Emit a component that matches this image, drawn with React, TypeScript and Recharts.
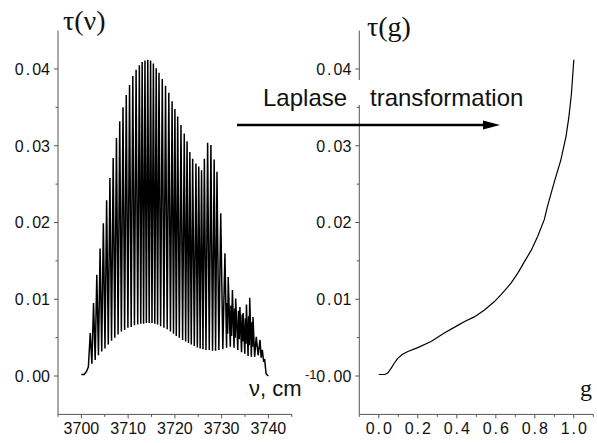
import { LineChart, Line, XAxis, YAxis } from "recharts";

// left panel: absorption spectrum tau(nu)
const lineNu = [
  3701.9, 3702.6, 3703.3, 3704.0, 3704.7, 3705.4, 3706.1, 3706.8, 3707.5, 3708.2,
  3708.9, 3709.6, 3710.3, 3711.0, 3711.7, 3712.4, 3713.0, 3713.6, 3714.2, 3714.8,
  3715.4, 3716.0, 3716.6, 3717.3, 3718.0, 3718.7, 3719.4, 3720.0, 3720.6, 3721.3,
  3722.0, 3722.6, 3723.2, 3723.8, 3724.5, 3725.1, 3725.7, 3726.3, 3727.0, 3727.7,
  3728.4, 3729.0, 3729.8, 3730.7, 3731.4, 3732.3, 3733.0, 3733.9, 3734.6, 3735.3,
  3736.0, 3736.7, 3737.4, 3738.2, 3738.7, 3739.2,
];
const lineTau = [
  0.0056, 0.0095, 0.0132, 0.0166, 0.0199, 0.0229, 0.0258, 0.0284, 0.031, 0.0332,
  0.035, 0.0366, 0.0379, 0.0391, 0.0399, 0.0405, 0.0409, 0.0411, 0.0412, 0.0411,
  0.0407, 0.0401, 0.0395, 0.0387, 0.0378, 0.0369, 0.0358, 0.0348, 0.0338, 0.0327,
  0.0316, 0.0306, 0.0292, 0.0283, 0.0277, 0.0273, 0.0268, 0.0283, 0.0304, 0.0301,
  0.0282, 0.0266, 0.0212, 0.016, 0.0129, 0.0112, 0.0101, 0.009, 0.0082, 0.0093,
  0.0102, 0.0077, 0.0051, 0.0047, 0.0034, 0.0021,
];
const valleyNu = [
  3702.25, 3702.95, 3703.65, 3704.35, 3705.05, 3705.75, 3706.45, 3707.15, 3707.85, 3708.55,
  3709.25, 3709.95, 3710.65, 3711.35, 3712.05, 3712.7, 3713.3, 3713.9, 3714.5, 3715.1,
  3715.7, 3716.3, 3716.95, 3717.65, 3718.35, 3719.05, 3719.7, 3720.3, 3720.95, 3721.65,
  3722.3, 3722.9, 3723.5, 3724.15, 3724.8, 3725.4, 3726.0, 3726.65, 3727.35, 3728.05,
  3728.7, 3729.4, 3730.25, 3731.05, 3731.85, 3732.65, 3733.45, 3734.25, 3734.95, 3735.65,
  3736.35, 3737.05, 3737.8, 3738.45, 3738.95, 3739.5,
];
const valleyTau = [
  0.0016, 0.0021, 0.0027, 0.0032, 0.0036, 0.0041, 0.0046, 0.005, 0.0054, 0.0058,
  0.006, 0.0063, 0.0064, 0.0066, 0.0067, 0.0068, 0.0068, 0.0069, 0.0069, 0.0069,
  0.0068, 0.0067, 0.0065, 0.0063, 0.0061, 0.0058, 0.0055, 0.0052, 0.005, 0.0047,
  0.0045, 0.0043, 0.0041, 0.0039, 0.0037, 0.0036, 0.0035, 0.0034, 0.0034, 0.0033,
  0.0033, 0.0034, 0.0035, 0.0037, 0.0038, 0.0037, 0.0034, 0.0031, 0.0029, 0.0026,
  0.0025, 0.0025, 0.0027, 0.0024, 0.002, 0.0003,
];
// weaker lines packed into the 3731-3737 band
const blobNu = [
  3731.15, 3731.28, 3731.98, 3732.12, 3732.78, 3732.9, 3733.6, 3733.75,
  3734.38, 3734.5, 3735.08, 3735.2, 3735.78, 3735.9, 3736.48, 3736.6,
];
const blobTau = [
  0.0095, 0.0055, 0.0092, 0.0052, 0.0088, 0.005, 0.0085, 0.0048,
  0.008, 0.0045, 0.0075, 0.0042, 0.0078, 0.004, 0.007, 0.0038,
];
const headNu = [3700.0, 3700.6, 3701.1, 3701.5];
const headTau = [0.0002, 0.0002, 0.0006, 0.0012];
const tailNu = [3739.8, 3740.0];
const tailTau = [0.0001, 0.0];

// right panel: tau(g)
const gValues = [
  0, 0.03, 0.046, 0.063, 0.08, 0.097, 0.12, 0.149, 0.2, 0.268, 0.336, 0.405, 0.44,
  0.49, 0.542, 0.593, 0.627, 0.678, 0.713, 0.747, 0.782, 0.815, 0.849, 0.865, 0.9,
  0.933, 0.96, 0.975, 0.988, 1.0,
];
const gTau = [
  0.0002, 0.0002, 0.0004, 0.001, 0.0017, 0.0023, 0.0028, 0.0032, 0.0037, 0.0045,
  0.0056, 0.0066, 0.0071, 0.0077, 0.0086, 0.0097, 0.0106, 0.0121, 0.0134, 0.0149,
  0.0164, 0.0182, 0.0204, 0.0221, 0.0253, 0.0281, 0.0312, 0.0338, 0.0368, 0.0412,
];

const tauMajor = [0, 0.01, 0.02, 0.03, 0.04];
const tauMinor = [0.005, 0.015, 0.025, 0.035];
const nuMajor = [3700, 3710, 3720, 3730, 3740];
const nuMinor = [3695, 3705, 3715, 3725, 3735, 3745];
const gMajor = [0, 0.2, 0.4, 0.6, 0.8, 1.0];
const gMinor = [-0.1, 0.1, 0.3, 0.5, 0.7, 0.9, 1.1];

const spectrumData = [
  ...headNu.map((nu, i) => ({ nu, tau: headTau[i] })),
  ...lineNu.flatMap((nu, i) => [
    { nu, tau: lineTau[i] },
    { nu: valleyNu[i], tau: valleyTau[i] },
  ]),
  ...blobNu.map((nu, i) => ({ nu, tau: blobTau[i] })),
  ...tailNu.map((nu, i) => ({ nu, tau: tailTau[i] })),
].sort((a, b) => a.nu - b.nu);
const gData = gValues.map((g, i) => ({ g, tau: gTau[i] }));

const AXIS = "#555";
const SANS = "'Liberation Sans', Arial, sans-serif";
const SERIF = "'Liberation Serif', 'Times New Roman', serif";

const isIn = (list: number[], v: number) => list.some((m) => Math.abs(m - v) < 1e-9);

// the original font sets the decimal point about as wide as a digit
function NumText(label: string) {
  const [a, b] = label.split(".");
  if (b === undefined) return a;
  return (
    <>
      {a}
      <tspan dx={2}>.</tspan>
      <tspan dx={2}>{b}</tspan>
    </>
  );
}

function makeXTick(major: number[], fmt: (v: number) => string) {
  return (props: any) => {
    const { x, y, payload } = props;
    const big = isIn(major, payload.value);
    return (
      <g>
        <line x1={x} y1={y} x2={x} y2={y + (big ? 4 : 2.5)} stroke={AXIS} />
        {big && (
          <text x={x} y={y + 20} textAnchor="middle" fontSize={16} fontFamily={SANS} fill="#111">
            {NumText(fmt(payload.value))}
          </text>
        )}
      </g>
    );
  };
}

function YTick(props: any) {
  const { x, y, payload } = props;
  const big = isIn(tauMajor, payload.value);
  return (
    <g>
      <line x1={x} y1={y} x2={x - (big ? 4 : 2.5)} y2={y} stroke={AXIS} />
      {big && (
        <text x={x - 8} y={y} dy="0.36em" textAnchor="end" fontSize={16} fontFamily={SANS} fill="#111">
          {NumText(payload.value.toFixed(2))}
        </text>
      )}
    </g>
  );
}

const yTicks = [...tauMajor, ...tauMinor].sort((a, b) => a - b);

export default function App() {
  return (
    <div style={{ position: "absolute", left: 0, top: 0, width: 597, height: 443, background: "#fff" }}>
      <div style={{ position: "absolute", left: 0, top: 0 }}>
        <LineChart width={300} height={443} data={spectrumData} margin={{ top: 30.6, right: 8.2, bottom: 0, left: 0 }}>
          <XAxis
            dataKey="nu"
            type="number"
            domain={[3695, 3745]}
            ticks={[...nuMajor, ...nuMinor].sort((a, b) => a - b)}
            interval={0}
            tickSize={0}
            tickMargin={0}
            tickLine={false}
            axisLine={{ stroke: AXIS }}
            tick={makeXTick(nuMajor, (v) => String(v))}
            height={28.6}
            allowDataOverflow
          />
          <YAxis
            type="number"
            domain={[-0.005, 0.045]}
            ticks={yTicks}
            interval={0}
            tickSize={0}
            tickMargin={0}
            tickLine={false}
            axisLine={{ stroke: AXIS }}
            tick={YTick}
            width={58}
            allowDataOverflow
          />
          <Line
            type="linear"
            dataKey="tau"
            stroke="#000"
            strokeWidth={1.5}
            dot={false}
            isAnimationActive={false}
          />
        </LineChart>
      </div>
      <div style={{ position: "absolute", left: 300, top: 0 }}>
        <LineChart width={297} height={443} data={gData} margin={{ top: 30.6, right: 3.7, bottom: 0, left: 0 }}>
          <XAxis
            dataKey="g"
            type="number"
            domain={[-0.1, 1.1]}
            ticks={[...gMajor, ...gMinor].sort((a, b) => a - b)}
            interval={0}
            tickSize={0}
            tickMargin={0}
            tickLine={false}
            axisLine={{ stroke: AXIS }}
            tick={makeXTick(gMajor, (v) => v.toFixed(1))}
            height={28.6}
            allowDataOverflow
          />
          <YAxis
            type="number"
            domain={[-0.005, 0.045]}
            ticks={yTicks}
            interval={0}
            tickSize={0}
            tickMargin={0}
            tickLine={false}
            axisLine={{ stroke: AXIS }}
            tick={YTick}
            width={59.3}
            allowDataOverflow
          />
          <Line
            type="linear"
            dataKey="tau"
            stroke="#000"
            strokeWidth={1.2}
            dot={false}
            isAnimationActive={false}
          />
        </LineChart>
      </div>
      <svg width={597} height={443} style={{ position: "absolute", left: 0, top: 0, pointerEvents: "none" }}>
        <text x={63} y={30} fontSize={28} fontFamily={SERIF} fill="#111">τ(ν)</text>
        <text x={367} y={36} fontSize={28} fontFamily={SERIF} fill="#111">τ(g)</text>
        <rect x={256} y={80} width={276} height={25} fill="#fff" />
        <text x={263} y={106} fontSize={24} fontFamily={SANS} fill="#111">Laplase</text>
        <text x={370} y={106} fontSize={24} fontFamily={SANS} fill="#111">transformation</text>
        <line x1={237} y1={125} x2={486} y2={125} stroke="#000" strokeWidth={2.6} />
        <polygon points="483,120.5 500,125 483,129.5" fill="#000" />
        <text x={249} y={396} fontSize={22} fontFamily={SANS} fill="#111">
          ν, cm
          <tspan x={305} y={379} fontSize={13}>-1</tspan>
        </text>
        <text x={580} y={396} fontSize={24} fontFamily={SERIF} fill="#111">g</text>
      </svg>
    </div>
  );
}
